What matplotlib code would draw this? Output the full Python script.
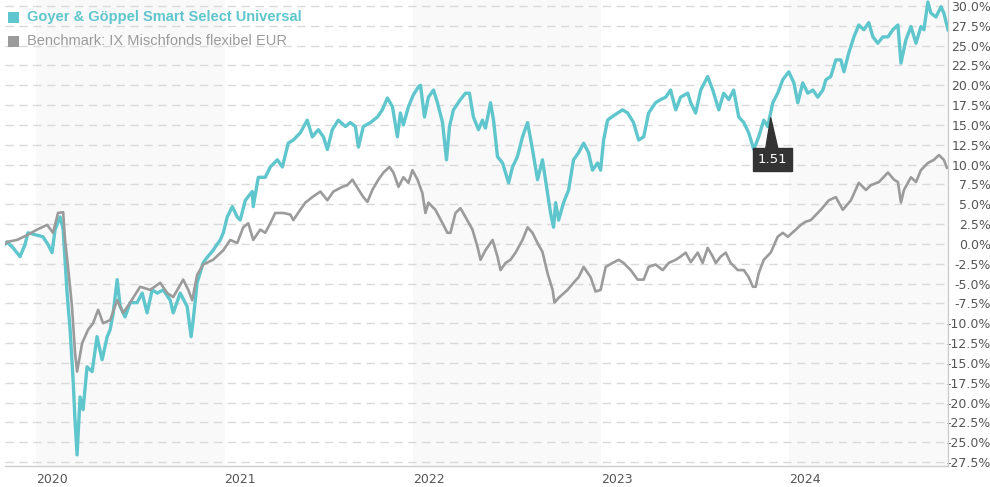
import numpy as np
import matplotlib
matplotlib.use('Agg')
import matplotlib.pyplot as plt
import matplotlib.dates as mdates
from matplotlib.patches import Rectangle

# fund (decimal years / % performance)
fund_t = [2019.835, 2019.846, 2019.878, 2019.915, 2019.941, 2019.957, 2020.005, 2020.037, 2020.064, 2020.085,
          2020.101, 2020.128, 2020.144, 2020.165, 2020.181, 2020.197, 2020.207, 2020.218, 2020.234, 2020.250,
          2020.271, 2020.298, 2020.324, 2020.351, 2020.378, 2020.394, 2020.410, 2020.431, 2020.447, 2020.473,
          2020.500, 2020.537, 2020.564, 2020.590, 2020.617, 2020.644, 2020.676, 2020.713, 2020.729, 2020.766,
          2020.803, 2020.824, 2020.835, 2020.856, 2020.888, 2020.899, 2020.941, 2020.952, 2020.979, 2020.995,
          2021.016, 2021.043, 2021.069, 2021.085, 2021.112, 2021.149, 2021.154, 2021.181, 2021.218, 2021.245,
          2021.282, 2021.309, 2021.340, 2021.367, 2021.404, 2021.441, 2021.468, 2021.500, 2021.527, 2021.548,
          2021.574, 2021.606, 2021.644, 2021.670, 2021.697, 2021.713, 2021.739, 2021.777, 2021.814, 2021.840,
          2021.867, 2021.894, 2021.920, 2021.936, 2021.952, 2021.979, 2022.005, 2022.032, 2022.043, 2022.064,
          2022.085, 2022.112, 2022.133, 2022.160, 2022.181, 2022.197, 2022.218, 2022.255, 2022.282, 2022.303,
          2022.324, 2022.351, 2022.372, 2022.388, 2022.415, 2022.431, 2022.452, 2022.479, 2022.511, 2022.532,
          2022.558, 2022.585, 2022.612, 2022.638, 2022.665, 2022.691, 2022.707, 2022.734, 2022.750, 2022.761,
          2022.777, 2022.803, 2022.830, 2022.856, 2022.883, 2022.910, 2022.936, 2022.957, 2022.984, 2023.000,
          2023.016, 2023.037, 2023.053, 2023.090, 2023.117, 2023.144, 2023.175, 2023.202, 2023.229, 2023.255,
          2023.292, 2023.319, 2023.346, 2023.372, 2023.399, 2023.425, 2023.463, 2023.479, 2023.505, 2023.532,
          2023.569, 2023.596, 2023.628, 2023.654, 2023.681, 2023.707, 2023.734, 2023.761, 2023.787, 2023.814,
          2023.840, 2023.867, 2023.888, 2023.915, 2023.941, 2023.968, 2024.000, 2024.027, 2024.048, 2024.074,
          2024.101, 2024.128, 2024.154, 2024.181, 2024.197, 2024.223, 2024.250, 2024.277, 2024.293, 2024.319,
          2024.346, 2024.372, 2024.399, 2024.425, 2024.447, 2024.473, 2024.500, 2024.527, 2024.553, 2024.580,
          2024.596, 2024.622, 2024.649, 2024.676, 2024.702, 2024.718, 2024.739, 2024.755, 2024.782, 2024.809,
          2024.824, 2024.846]
fund = [0.0, 0.25, -0.5, -1.6, -0.1, 1.4, 1.1, 0.9, -0.1, -1.1,
        1.8, 3.4, 1.8, -6.2, -10.8, -17.2, -22.2, -26.6, -19.3, -20.9,
        -15.5, -16.1, -11.7, -14.6, -11.7, -10.8, -8.7, -4.5, -7.9, -9.2,
        -7.4, -7.4, -6.2, -8.7, -5.8, -6.2, -5.8, -7.1, -8.7, -6.2,
        -7.9, -11.7, -9.6, -4.9, -2.4, -2.0, -0.8, -0.4, 0.5, 1.4,
        3.4, 4.7, 3.4, 3.0, 5.5, 6.6, 4.7, 8.4, 8.4, 9.7,
        10.6, 9.7, 12.7, 13.1, 14.0, 15.6, 13.5, 14.4, 13.5, 11.9,
        14.4, 15.6, 14.8, 15.3, 14.8, 12.2, 14.8, 15.3, 16.0, 16.9,
        18.4, 17.3, 13.5, 16.5, 15.0, 17.3, 18.8, 19.8, 20.0, 16.0,
        18.5, 19.4, 17.8, 15.3, 10.6, 14.8, 16.9, 18.2, 19.0, 19.0,
        16.0, 14.4, 15.6, 14.6, 17.8, 15.6, 11.0, 10.2, 7.7, 9.7,
        11.0, 13.5, 15.3, 11.9, 8.1, 10.6, 8.1, 3.9, 2.1, 5.2,
        3.0, 5.2, 6.8, 10.6, 11.5, 12.7, 11.5, 9.3, 10.2, 9.3,
        13.1, 15.6, 15.9, 16.5, 16.9, 16.5, 15.3, 13.1, 13.5, 16.5,
        17.8, 18.2, 18.5, 19.4, 16.9, 18.5, 19.0, 17.8, 16.5, 19.4,
        21.1, 19.4, 16.9, 19.0, 18.2, 19.4, 16.0, 15.3, 14.0, 11.9,
        13.5, 15.6, 14.8, 17.8, 19.0, 20.7, 21.7, 20.3, 17.8, 20.3,
        19.0, 19.4, 18.5, 19.4, 20.7, 21.1, 23.2, 23.2, 21.7, 24.1,
        26.1, 27.6, 27.0, 27.9, 26.1, 25.3, 26.1, 26.1, 27.0, 27.6,
        22.8, 25.7, 27.4, 25.3, 27.4, 27.0, 30.5, 29.1, 28.6, 29.9,
        29.1, 27.0]

# benchmark
bench_t = [2019.835, 2019.846, 2019.899, 2019.952, 2020.005, 2020.059, 2020.090, 2020.117, 2020.144, 2020.154,
           2020.170, 2020.191, 2020.207, 2020.218, 2020.245, 2020.277, 2020.303, 2020.330, 2020.356, 2020.394,
           2020.431, 2020.463, 2020.500, 2020.553, 2020.606, 2020.660, 2020.697, 2020.729, 2020.782, 2020.809,
           2020.830, 2020.856, 2020.888, 2020.941, 2020.995, 2021.032, 2021.069, 2021.101, 2021.128, 2021.154,
           2021.191, 2021.218, 2021.245, 2021.271, 2021.314, 2021.351, 2021.367, 2021.404, 2021.431, 2021.468,
           2021.511, 2021.548, 2021.580, 2021.628, 2021.654, 2021.681, 2021.707, 2021.739, 2021.761, 2021.787,
           2021.819, 2021.846, 2021.878, 2021.899, 2021.926, 2021.952, 2021.979, 2022.000, 2022.027, 2022.053,
           2022.069, 2022.085, 2022.122, 2022.160, 2022.186, 2022.202, 2022.229, 2022.255, 2022.282, 2022.319,
           2022.346, 2022.362, 2022.388, 2022.426, 2022.452, 2022.468, 2022.495, 2022.521, 2022.548, 2022.585,
           2022.612, 2022.638, 2022.665, 2022.691, 2022.718, 2022.745, 2022.755, 2022.777, 2022.824, 2022.856,
           2022.883, 2022.910, 2022.947, 2022.973, 2023.000, 2023.027, 2023.064, 2023.096, 2023.122, 2023.160,
           2023.197, 2023.229, 2023.255, 2023.292, 2023.330, 2023.362, 2023.399, 2023.425, 2023.452, 2023.479,
           2023.516, 2023.542, 2023.569, 2023.596, 2023.612, 2023.638, 2023.665, 2023.691, 2023.729, 2023.761,
           2023.787, 2023.809, 2023.824, 2023.840, 2023.867, 2023.904, 2023.941, 2023.968, 2023.995, 2024.037,
           2024.064, 2024.090, 2024.117, 2024.170, 2024.213, 2024.250, 2024.287, 2024.330, 2024.372, 2024.410,
           2024.436, 2024.479, 2024.527, 2024.559, 2024.580, 2024.596, 2024.612, 2024.649, 2024.676, 2024.702,
           2024.739, 2024.771, 2024.798, 2024.824, 2024.840]
bench = [0.0, 0.25, 0.5, 1.1, 1.8, 2.4, 1.4, 3.9, 4.0, 0.5,
         -2.9, -7.9, -13.7, -16.1, -12.5, -10.8, -10.0, -8.3, -10.0, -9.6,
         -7.1, -8.7, -7.4, -5.4, -5.8, -4.9, -6.2, -6.7, -4.5, -5.8,
         -7.1, -3.9, -2.6, -2.0, -0.8, 0.5, 0.1, 2.1, 2.6, 0.5,
         1.8, 1.4, 2.6, 3.9, 3.9, 3.7, 3.0, 4.3, 5.2, 5.9,
         6.6, 5.5, 6.6, 7.2, 7.4, 8.1, 7.1, 5.9, 5.3, 6.8,
         8.1, 9.0, 9.7, 9.0, 7.2, 8.4, 7.7, 9.3, 8.1, 6.4,
         3.9, 5.2, 4.3, 2.6, 1.4, 1.4, 3.9, 4.5, 3.4, 1.8,
         -0.4, -2.0, -0.8, 0.5, -1.6, -3.3, -2.4, -2.0, -1.1, 0.5,
         2.1, 1.4, 0.1, -1.0, -3.7, -5.8, -7.4, -6.8, -5.8, -4.9,
         -4.2, -2.9, -4.2, -6.0, -5.8, -2.9, -2.4, -2.0, -2.4, -3.3,
         -4.5, -4.5, -2.9, -2.6, -3.3, -2.4, -2.0, -1.6, -1.1, -2.3,
         -1.1, -2.4, -0.5, -1.6, -2.4, -1.6, -1.1, -2.4, -3.3, -3.3,
         -4.2, -5.4, -5.4, -3.7, -2.0, -1.1, 0.9, 1.4, 0.9, 1.8,
         2.4, 2.8, 3.0, 4.3, 5.5, 5.9, 4.3, 5.5, 7.7, 6.8,
         7.4, 7.8, 9.0, 8.1, 7.8, 5.2, 6.8, 8.4, 7.8, 9.3,
         10.2, 10.6, 11.2, 10.6, 9.6]

marker_t = 2023.904
marker_val = 15.9
marker_label = '1.51'

fund_name = 'Goyer & Göppel Smart Select Universal'
bench_name = 'Benchmark: IX Mischfonds flexibel EUR'
teal = '#5ec6cc'
grey = '#9b9b9b'


def to_dates(years):
    y = np.asarray(years, dtype=float)
    secs = np.round((y - 2020) * 365.25 * 86400).astype(np.int64)
    return np.datetime64('2020-01-01T00:00:00') + secs.astype('timedelta64[s]')


fig = plt.figure(figsize=(9.9, 4.87), dpi=100)
ax = fig.add_axes([5 / 990, 21 / 487, 943 / 990, 466 / 487])

fd = to_dates(fund_t)
bd = to_dates(bench_t)

# alternating year bands
for yr in (2020, 2022, 2024):
    ax.axvspan(np.datetime64(f'{yr}-01-01'), np.datetime64(f'{yr + 1}-01-01'),
               color='#f9f9f9', zorder=0, lw=0)

ax.plot(fd, fund, color=teal, lw=2.4, zorder=3, solid_joinstyle='round')
ax.plot(bd, bench, color=grey, lw=1.9, zorder=4, solid_joinstyle='round')

ax.set_xlim(fd[0], fd[-1])
ax.set_ylim(-28.0, 30.75)

ax.yaxis.tick_right()
ax.set_yticks(np.arange(-27.5, 30.01, 2.5))
ax.set_yticklabels([f'{v:.1f}%' for v in np.arange(-27.5, 30.01, 2.5)])
ax.tick_params(axis='y', length=0, pad=31, labelsize=9, labelcolor='#555555')
for lab in ax.get_yticklabels():
    lab.set_horizontalalignment('right')
ax.yaxis.grid(True, color='#dadada', lw=1, ls=(0, (6, 4)))
ax.set_axisbelow(True)

ax.xaxis.set_major_locator(mdates.YearLocator())
ax.xaxis.set_major_formatter(mdates.DateFormatter('%Y'))
ax.tick_params(axis='x', length=0, pad=5, labelsize=9, labelcolor='#555555')
for lab in ax.get_xticklabels():
    lab.set_horizontalalignment('left')

for s in ('top', 'left'):
    ax.spines[s].set_visible(False)
for s in ('right', 'bottom'):
    ax.spines[s].set_color('#cccccc')
    ax.spines[s].set_linewidth(1)
ax.set_facecolor('white')

# dividend marker
ax.annotate(marker_label, xy=(to_dates([marker_t])[0], marker_val), xytext=(1, -30),
            textcoords='offset points', ha='center', va='center', color='white',
            fontsize=9.5, family='DejaVu Sans', zorder=6,
            bbox=dict(boxstyle='square,pad=0.35', fc='#333333', ec='#333333'),
            arrowprops=dict(arrowstyle='wedge,tail_width=0.9,shrink_factor=0.5',
                            fc='#333333', ec='#333333', shrinkA=0, shrinkB=0))

# legend
for row, (name, col, weight) in enumerate([(fund_name, teal, 'bold'), (bench_name, grey, 'normal')]):
    yc = 17 + 24 * row
    fig.add_artist(Rectangle((8 / 990, 1 - (yc + 5.5) / 487), 11 / 990, 11 / 487,
                             transform=fig.transFigure, fc=col, ec='none'))
    fig.text(27 / 990, 1 - yc / 487, name, color=col, fontsize=10.5, fontweight=weight,
             va='center', family='Liberation Sans')

fig.savefig('out.png', dpi=100)
